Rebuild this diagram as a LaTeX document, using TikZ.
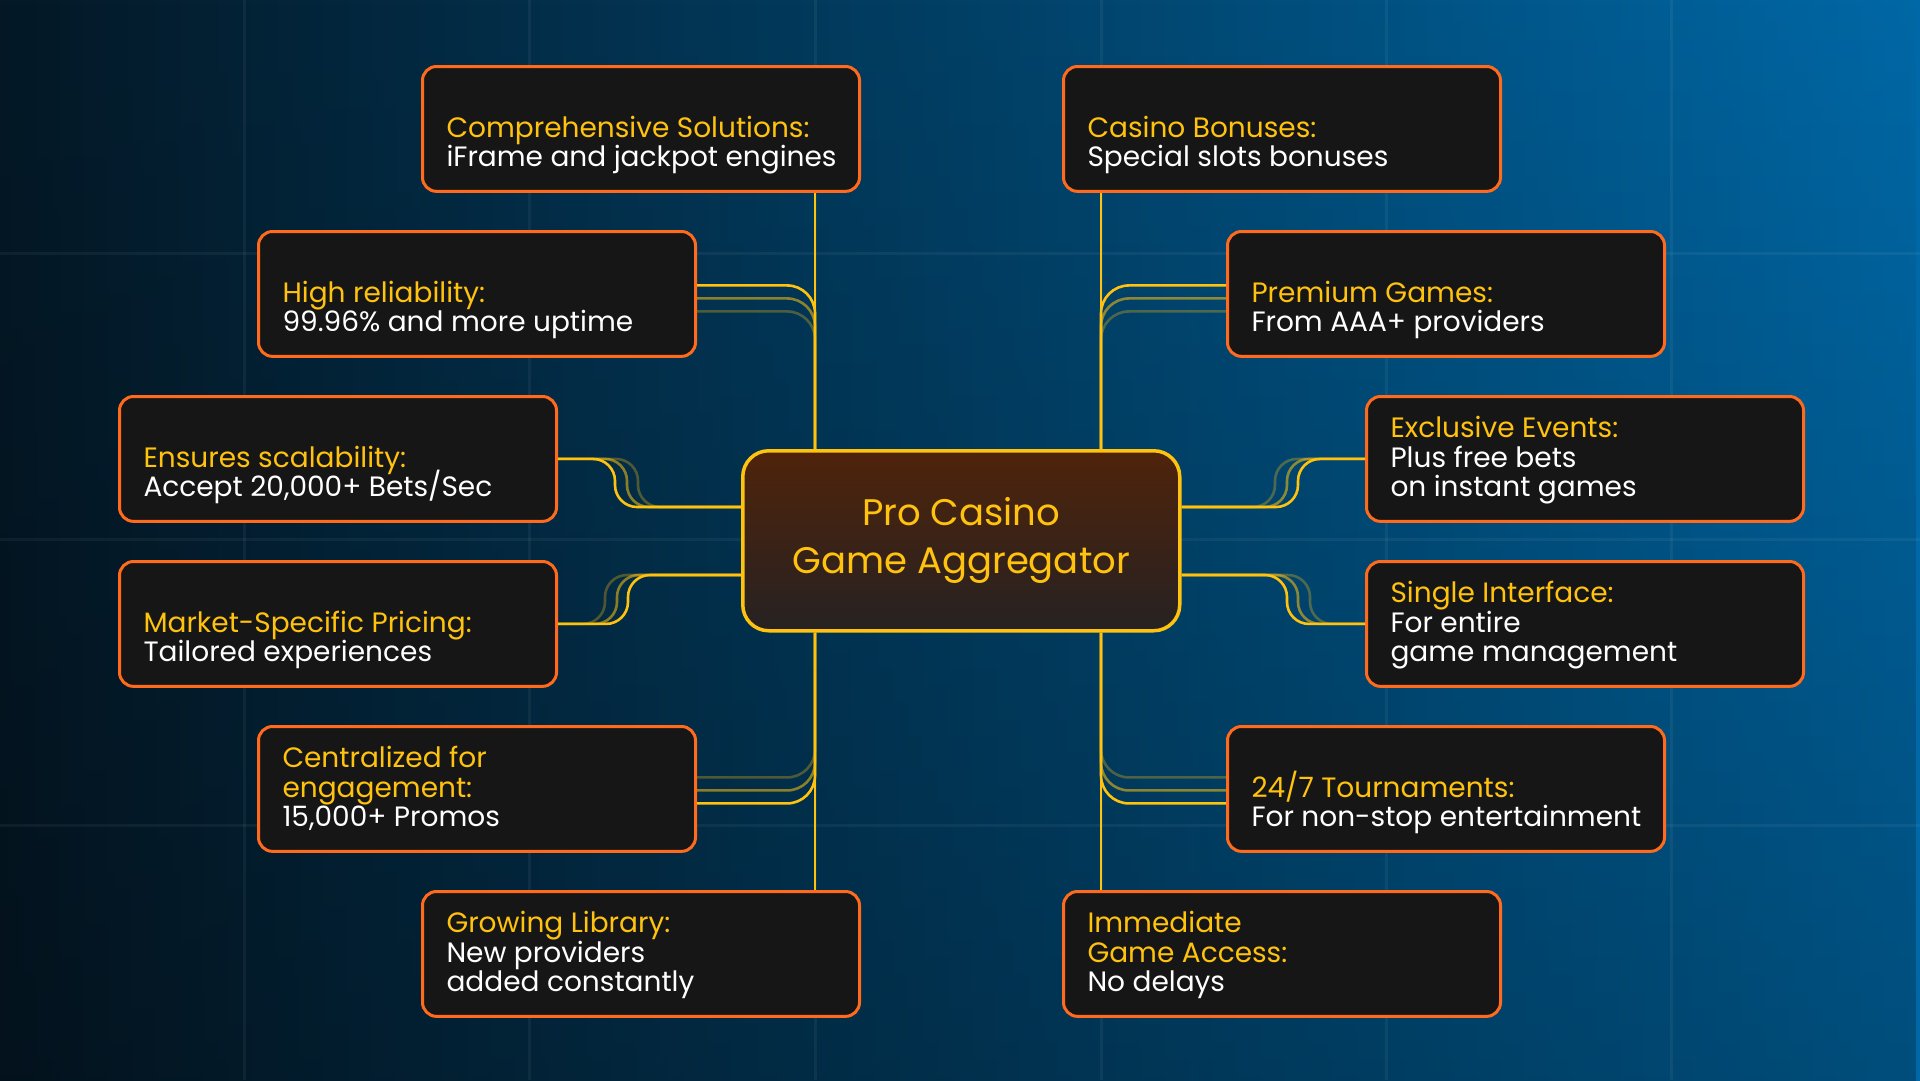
\documentclass[tikz,border=0pt]{standalone}
\usepackage{fontspec}
\setmainfont{Poppins}
\usetikzlibrary{positioning,calc,fadings}
\definecolor{bgLeft}{HTML}{041826}
\definecolor{bgRight}{HTML}{0068A6}
\definecolor{gold}{HTML}{FFC20E}
\definecolor{flame}{HTML}{FF6A1C}
\definecolor{cardFill}{HTML}{161616}
\definecolor{hubTop}{HTML}{4F230B}
\definecolor{hubBottom}{HTML}{262222}
\newcommand{\ColA}{118}
\newcommand{\ColB}{257}
\newcommand{\ColC}{421}
\newcommand{\ColD}{1062}
\newcommand{\ColE}{1226}
\newcommand{\ColF}{1365}
\newcommand{\SpineL}{815}
\newcommand{\SpineR}{1101}
\newcommand{\cardfont}{\fontsize{28}{29.5}\selectfont}
\newcommand{\hubfont}{\fontsize{37}{48}\selectfont}
\newcommand{\cardtext}[2]{\parbox[c][84pt][b]{413pt}{\raggedright\leftskip=12pt\lineskiplimit=-100pt\textcolor{gold}{#1}\\#2\strut}}

\begin{document}
\begin{tikzpicture}[
    x=1pt, y=-1pt,
    card/.style={draw=flame, line width=3pt, rounded corners=14pt, fill=cardFill, text=white, anchor=north west,
                 minimum width=437pt, minimum height=122pt, inner xsep=12pt, inner ysep=16pt, font=\cardfont},
    hub/.style={draw=gold, line width=3.5pt, rounded corners=26pt, top color=hubTop, bottom color=hubBottom, anchor=north west,
                minimum width=437pt, minimum height=180pt, align=center, text=gold, font=\hubfont},
    wire/.style={draw=gold, line width=2.6pt},
    backline/.style={draw=white, draw opacity=0.05, line width=3pt},
  ]

\useasboundingbox (0,0) rectangle (1920,1080);

% --- Backdrop: blue wash and faint grid ---------------------------------------
\shade[left color=bgLeft, right color=bgRight] (0,0) rectangle (1920,1080);
\fill[black, fill opacity=0.25, path fading=north] (0,0) rectangle (1920,1080);
\foreach \gx in {244,529,815,1101,1386,1671} {
  \draw[backline] (\gx,0) -- (\gx,1080);
}
\foreach \gy in {253,539,825} {
  \draw[backline] (0,\gy) -- (1920,\gy);
}

% --- The hub --------------------------------------------------------------------
\node[hub] (agg) at (741,449) {Pro Casino\\Game Aggregator};
\coordinate (spineL) at (\SpineL,0);
\coordinate (spineR) at (\SpineR,0);
\coordinate (portLU) at (agg.west |- 0,507);
\coordinate (portLD) at (agg.west |- 0,575);
\coordinate (portRU) at (agg.east |- 0,507);
\coordinate (portRD) at (agg.east |- 0,575);

% --- Left column ------------------------------------------------------------------
\node[card] (comp)  at (\ColC,65)  {\cardtext{Comprehensive Solutions:}{iFrame and jackpot engines}};
\node[card] (rel)   at (\ColB,230) {\cardtext{High reliability:}{99.96\% and more uptime}};
\node[card] (scal)  at (\ColA,395) {\cardtext{Ensures scalability:}{Accept 20,000+ Bets/Sec}};
\node[card] (price) at (\ColA,560) {\cardtext{Market-Specific Pricing:}{Tailored experiences}};
\node[card] (promo) at (\ColB,725) {\cardtext{Centralized for\\engagement:}{15,000+ Promos}};
\node[card] (lib)   at (\ColC,890) {\cardtext{Growing Library:}{New providers\\added constantly}};

% --- Right column -----------------------------------------------------------------
\node[card] (bonus)  at (\ColD,65)  {\cardtext{Casino Bonuses:}{Special slots bonuses}};
\node[card] (prem)   at (\ColE,230) {\cardtext{Premium Games:}{From AAA+ providers}};
\node[card] (event)  at (\ColF,395) {\cardtext{Exclusive Events:}{Plus free bets\\on instant games}};
\node[card] (iface)  at (\ColF,560) {\cardtext{Single Interface:}{For entire\\game management}};
\node[card] (tour)   at (\ColE,725) {\cardtext{24/7 Tournaments:}{For non-stop entertainment}};
\node[card] (access) at (\ColD,890) {\cardtext{Immediate\\Game Access:}{No delays}};

% --- Branches into the spines (faint trails first) --------------------------------
\foreach \dy/\op in {-17.5/0.3, -4.5/0.55, 8.5/1} {
  \draw[wire, draw opacity=\op, rounded corners=28pt] ([yshift=\dy pt]rel.east) -| (agg.north -| spineL);
  \draw[wire, draw opacity=\op, rounded corners=28pt] ([yshift=\dy pt]prem.west) -| (agg.north -| spineR);
}
\foreach \dy/\op in {11.5/0.3, -1.5/0.55, -14.5/1} {
  \draw[wire, draw opacity=\op, rounded corners=28pt] ([yshift=\dy pt]promo.east) -| (agg.south -| spineL);
  \draw[wire, draw opacity=\op, rounded corners=28pt] ([yshift=\dy pt]tour.west) -| (agg.south -| spineR);
}

% --- S-bends into the hub's sides --------------------------------------------------
\foreach \x/\op in {638/0.3, 627/0.55, 615/1} {
  \draw[wire, draw opacity=\op, rounded corners=22pt] (scal.east) -- (scal.east -| \x,0) -- (portLU -| \x,0) -- (portLU);
}
\foreach \x/\op in {605/0.3, 617/0.55, 628/1} {
  \draw[wire, draw opacity=\op, rounded corners=22pt] (price.east) -- (price.east -| \x,0) -- (portLD -| \x,0) -- (portLD);
}
\foreach \x/\op in {1275/0.3, 1287/0.55, 1298/1} {
  \draw[wire, draw opacity=\op, rounded corners=22pt] (portRU) -- (portRU -| \x,0) -- (event.west -| \x,0) -- (event.west);
}
\foreach \x/\op in {1310/0.3, 1298/0.55, 1287/1} {
  \draw[wire, draw opacity=\op, rounded corners=22pt] (portRD) -- (portRD -| \x,0) -- (iface.west -| \x,0) -- (iface.west);
}

% --- Spines ------------------------------------------------------------------------
\draw[wire] (comp.south -| spineL) -- (agg.north -| spineL);
\draw[wire] (agg.south -| spineL) -- (lib.north -| spineL);
\draw[wire] (bonus.south -| spineR) -- (agg.north -| spineR);
\draw[wire] (agg.south -| spineR) -- (access.north -| spineR);

\end{tikzpicture}
\end{document}
